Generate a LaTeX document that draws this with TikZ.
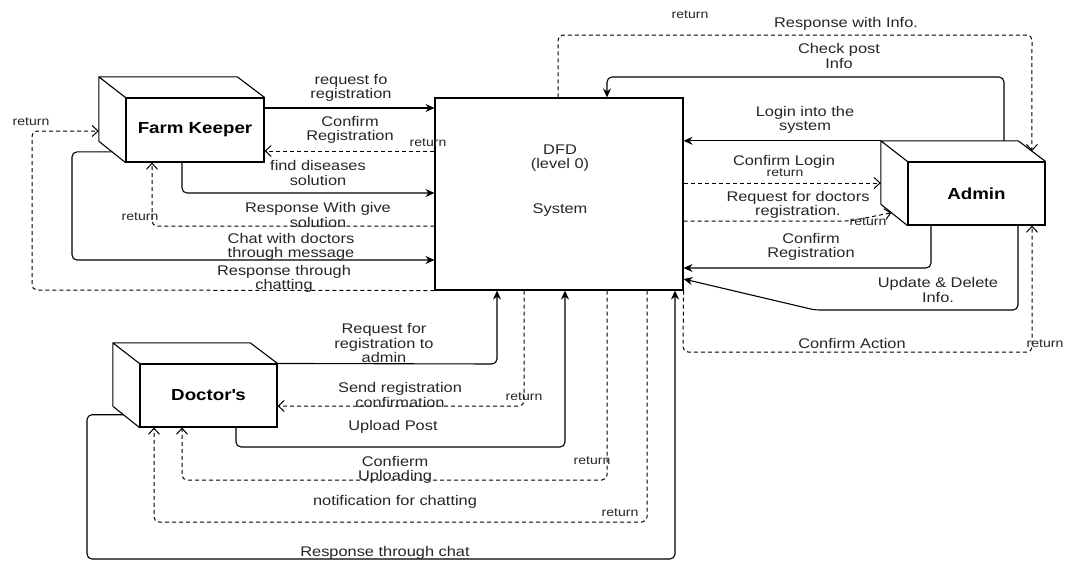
\documentclass[tikz,border=0pt]{standalone}
\usepackage{fontspec}
\setmainfont{Liberation Sans}[FakeStretch=1.17]
\usetikzlibrary{arrows.meta,calc}

\begin{document}
\begin{tikzpicture}[x=1pt,y=-1pt,
  lbl/.style={inner sep=0pt, align=center, text=black!85, font=\fontsize{14}{14.5}\selectfont},
  tiny/.style={inner sep=0pt, text=black!85, font=\fontsize{12}{13}\selectfont},
  face/.style={draw, line width=1.1pt, inner sep=0pt, font=\bfseries\fontsize{16}{18}\selectfont},
  backface/.style={draw=none, inner sep=0pt},
  edge/.style={line width=1.1pt, line join=miter},
  flow/.style={draw, line width=1.1pt, rounded corners=5pt, -{Stealth[length=9pt,width=8pt,inset=3pt]}},
  ret/.style={draw, line width=1pt, rounded corners=5pt, dash pattern=on 4pt off 3pt, -{Straight Barb[length=6pt,width=11pt]}},
]
\fill[white] (0,0) rectangle (1065,563);
\useasboundingbox (0,0) rectangle (1065,563);

% ---- central process ----
\node[draw, line width=1.1pt, minimum width=248pt, minimum height=192pt, inner sep=0pt] (dfd) at (559,194) {};
\node[lbl] (dfdtitle) at (560,158) {DFD\\(level 0)};
\node[lbl] (dfdsys) at (560,210) {System};

% ---- external entities (cubes: front face + back face) ----
\node[face, minimum width=138pt, minimum height=64pt] (fk) at (195,130) {Farm Keeper};
\node[backface, minimum width=138pt, minimum height=64pt] (fkb) at (168,109) {};
\draw[edge] (fkb.south west) -- (fkb.north west) -- (fkb.north east) -- (fk.north east)
            (fkb.north west) -- (fk.north west)
            (fkb.south west) -- (fk.south west);

\node[face, minimum width=137pt, minimum height=63pt] (ad) at (976.5,193.5) {Admin};
\node[backface, minimum width=137pt, minimum height=63pt] (adb) at (949.5,172.5) {};
\draw[edge] (adb.south west) -- (adb.north west) -- (adb.north east) -- (ad.north east)
            (adb.north west) -- (ad.north west)
            (adb.south west) -- (ad.south west);

\node[face, minimum width=137pt, minimum height=63pt] (dr) at (208.5,395.5) {Doctor\textquotesingle s};
\node[backface, minimum width=137pt, minimum height=63pt] (drb) at (181.5,374.5) {};
\draw[edge] (drb.south west) -- (drb.north west) -- (drb.north east) -- (dr.north east)
            (drb.north west) -- (dr.north west)
            (drb.south west) -- (dr.south west);

% ---- Farm Keeper flows ----
\path[flow] (fk.east |- 0,108) -- (dfd.west |- 0,108);
\node[lbl] (l1) at (351,88) {request fo\\registration};

\path[ret] (dfd.west |- 0,151) -- (fk.east |- 0,151);
\node[lbl] (l2) at (350,130) {Confirm\\Registration};
\node[tiny] (r2) at (428,143) {return};

\path[flow] (fk.south -| 182,0) -- (182,193) -- (dfd.west |- 0,193);
\node[lbl] (l3) at (318,173) {find diseases\\solution};

\path[ret] (dfd.west |- 0,226) -- (152,226) -- (fk.south -| 152,0);
\node[lbl] (l4) at (318,215) {Response With give\\solution};
\node[tiny] (r4) at (140,217) {return};

\path[flow] ($(fkb.south west)!0.5!(fk.south west)$) -| (72,260) -- (dfd.west |- 0,260);
\node[lbl] (l5) at (291,247) {Chat with doctors\\through message};

\path[ret] (dfd.south west) -- (32,290) -- (32,131) -- (fkb.west |- 0,131);
\node[lbl] (l6) at (284,279) {Response through\\chatting};
\node[tiny] (r6) at (31,122) {return};

% ---- Admin flows ----
\path[ret] (dfd.north -| 558,0) -- (558,35) -- (1032,35) -- ($(adb.north east)!0.5!(ad.north east)$);
\node[tiny] (r7) at (690,15) {return};
\node[lbl] (l7) at (846,24) {Response with Info.};

\path[flow] (adb.north -| 1004,0) -- (1004,77) -- (607,77) -- (dfd.north -| 607,0);
\node[lbl] (l8) at (839,56) {Check post\\Info};

\path[flow] (adb.north west) -- (dfd.east |- adb.north west);
\node[lbl] (l9) at (805,120) {Login into the\\system};

\path[ret] (dfd.east |- 0,183) -- (adb.west |- 0,183);
\node[lbl] (l10) at (784,162) {Confirm Login};
\node[tiny] (r10) at (785,173) {return};

\path[ret] (dfd.east |- 0,221) -- (850,221) -- ($(adb.south west)!0.4!(ad.south west)$);
\node[lbl] (l11) at (798,205) {Request for doctors\\registration.};
\node[tiny] (r11) at (868,222) {return};

\path[flow] (ad.south -| 931,0) -- (931,268) -- (dfd.east |- 0,268);
\node[lbl] (l12) at (811,247) {Confirm\\Registration};

\path[flow] (ad.south -| 1018,0) -- (1018,310) -- (815,310) -- (dfd.east |- 0,279);
\node[lbl] (l13) at (938,290) {Update \& Delete\\Info.};

\path[ret] (dfd.south east) -- (683,352) -- (1032,352) -- (ad.south -| 1032,0);
\node[lbl] (l14) at (852,343) {Confirm Action};
\node[tiny] (r14) at (1045,344) {return};

% ---- Doctor flows ----
\path[flow] (dr.north east) -- (497,364) -- (dfd.south -| 497,0);
\node[lbl] (l15) at (384,343) {Request for\\registration to\\admin};

\path[ret] (dfd.south -| 524,0) -- (524,406) -- (dr.east |- 0,406);
\node[lbl] (l16) at (400,395) {Send registration\\confirmation};
\node[tiny] (r16) at (524,397) {return};

\path[flow] (dr.south -| 236,0) -- (236,447) -- (565,447) -- (dfd.south -| 565,0);
\node[lbl] (l17) at (393,427) {Upload Post};

\path[ret] (dfd.south -| 607,0) -- (607,480) -- (182,480) -- (dr.south -| 182,0);
\node[lbl] (l18) at (395,470) {Confierm\\Uploading};
\node[tiny] (r18) at (592,461) {return};

\path[ret] (dfd.south -| 647,0) -- (647,522) -- (154,522) -- (dr.south -| 154,0);
\node[lbl] (l19) at (395,502) {notification for chatting};
\node[tiny] (r19) at (620,513) {return};

\path[flow] ($(drb.south west)!0.4!(dr.south west)$) -| (87,559) -| (dfd.south -| 675,0);
\node[lbl] (l20) at (385,553) {Response through chat};

\end{tikzpicture}
\end{document}
